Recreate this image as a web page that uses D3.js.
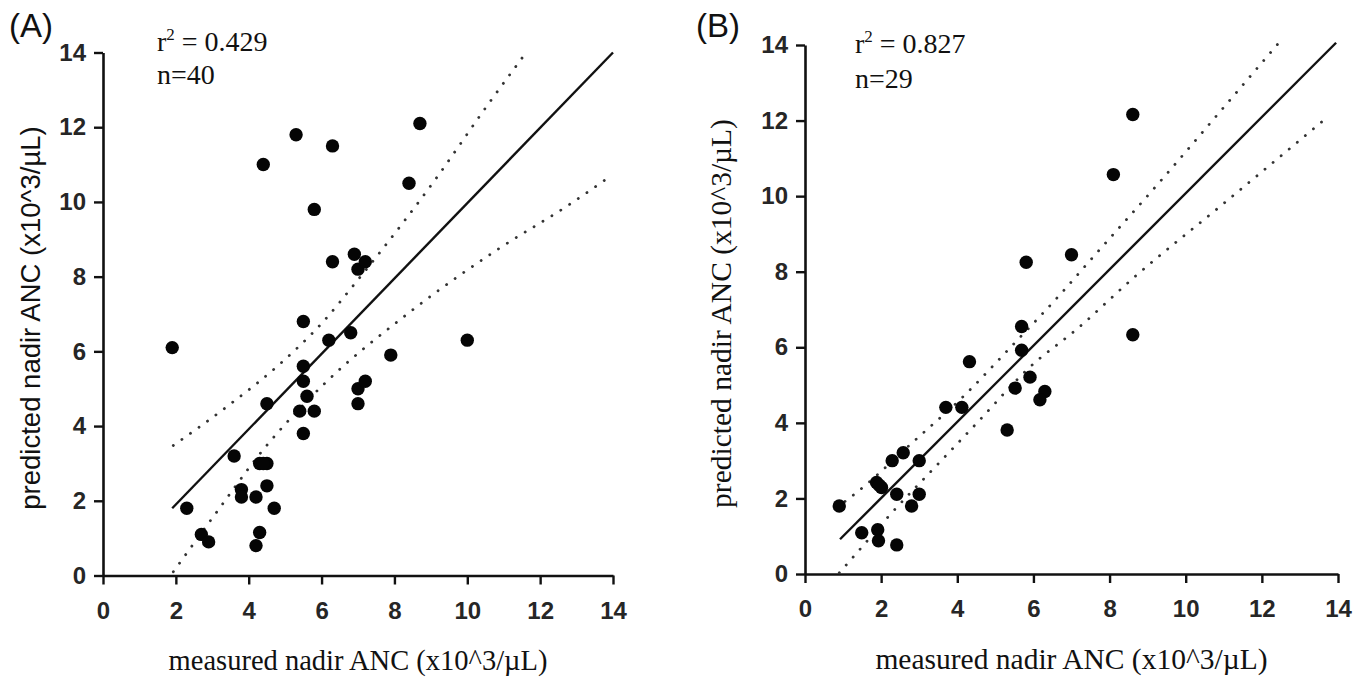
<!DOCTYPE html>
<html>
<head>
<meta charset="utf-8">
<script src="https://cdn.jsdelivr.net/npm/d3@7"></script>
<style>
  html, body { margin: 0; padding: 0; background: #fff; }
  svg { display: block; }
  .tick text { font-family: 'Liberation Sans', Arial, Helvetica, sans-serif; font-size: 24px; font-weight: bold; }
</style>
</head>
<body>
<svg id="chart" width="1371" height="681"></svg>
<script>
// ---------- data ----------
const tickValues = [0, 2, 4, 6, 8, 10, 12, 14];

// Panel A
const measuredA  = [1.9, 2.3, 2.7, 2.9, 3.6, 3.8, 3.8, 4.2, 4.3, 4.2, 4.3, 4.5, 4.5, 4.7, 4.5, 4.4, 5.3, 5.5, 5.5, 5.5, 5.6, 5.4, 5.8, 5.5, 5.8, 6.3, 6.3, 6.2, 6.8, 6.9, 7.0, 7.2, 7.0, 7.0, 7.2, 7.9, 8.4, 8.7, 10.0, 4.4];
const predictedA = [6.1, 1.8, 1.1, 0.9, 3.2, 2.3, 2.1, 2.1, 1.15, 0.8, 3.0, 3.0, 2.4, 1.8, 4.6, 11.0, 11.8, 6.8, 5.6, 5.2, 4.8, 4.4, 4.4, 3.8, 9.8, 11.5, 8.4, 6.3, 6.5, 8.6, 8.2, 8.4, 5.0, 4.6, 5.2, 5.9, 10.5, 12.1, 6.3, 3.0];
const fitA_x   = [1.9, 14.0];
const fitA_y   = [1.8, 14.0];
const upperA_x = [1.93, 3.51, 4.83, 6.05, 6.96, 7.52, 9.07, 10.54, 11.54];
const upperA_y = [3.48, 4.60, 5.64, 6.80, 7.87, 8.55, 10.53, 12.57, 13.90];
const lowerA_x = [1.93, 3.07, 4.40, 6.00, 8.38, 10.90, 12.74, 13.80];
const lowerA_y = [0.10, 1.63, 3.37, 5.06, 7.02, 8.77, 9.89, 10.60];

// Panel B
const measuredB  = [0.9, 1.49, 1.91, 1.93, 1.88, 2.01, 2.29, 2.58, 2.41, 2.41, 2.80, 3.0, 3.0, 3.7, 4.12, 4.32, 5.31, 5.52, 5.69, 5.69, 5.91, 6.30, 6.17, 8.61, 5.81, 7.0, 8.1, 8.61, 1.95];
const predictedB = [1.8, 1.09, 1.17, 0.88, 2.42, 2.29, 3.0, 3.21, 2.11, 0.77, 1.8, 3.0, 2.11, 4.41, 4.41, 5.62, 3.81, 4.92, 6.55, 5.92, 5.21, 4.83, 4.61, 6.33, 8.25, 8.45, 10.57, 12.16, 2.35];
const fitB_x   = [0.92, 13.95];
const fitB_y   = [0.92, 14.06];
const upperB_x = [1.05, 1.31, 2.80, 4.25, 5.38, 6.74, 7.49, 9.33, 10.99, 12.43];
const upperB_y = [1.92, 2.12, 3.46, 4.79, 5.98, 7.44, 8.30, 10.39, 12.34, 14.04];
const lowerB_x = [0.90, 1.44, 2.19, 3.55, 4.51, 5.91, 7.14, 8.62, 10.99, 13.77];
const lowerB_y = [0.03, 0.65, 1.52, 2.97, 3.99, 5.48, 6.48, 7.83, 9.80, 12.13];

const panels = [
  { tag: "(A)", tagX: 9,   r2: "0.429", n: "n=40", textX: 157, r2Y: 51, nY: 84,
    x0: 103, x1: 613, y0: 575.5, y1: 52.5,
    mx: measuredA, my: predictedA, fx: fitA_x, fy: fitA_y,
    ux: upperA_x, uy: upperA_y, lx: lowerA_x, ly: lowerA_y,
    yFont: "'Liberation Sans', Arial, sans-serif", yFontSize: 27.5, yLabX: 40,
    xFontSize: 28.5, xLabY: 670 },
  { tag: "(B)", tagX: 696, r2: "0.827", n: "n=29", textX: 855, r2Y: 53, nY: 88,
    x0: 805, x1: 1338, y0: 574, y1: 45,
    mx: measuredB, my: predictedB, fx: fitB_x, fy: fitB_y,
    ux: upperB_x, uy: upperB_y, lx: lowerB_x, ly: lowerB_y,
    yFont: "'Liberation Serif', 'Times New Roman', serif", yFontSize: 29.5, yLabX: 731,
    xFontSize: 29.5, xLabY: 669 }
];

const svg = d3.select("#chart");
const serif = "'Liberation Serif', 'Times New Roman', serif";
const sans = "'Liberation Sans', Arial, Helvetica, sans-serif";

panels.forEach(p => {
  const x = d3.scaleLinear().domain([0, 14]).range([p.x0, p.x1]);
  const y = d3.scaleLinear().domain([0, 14]).range([p.y0, p.y1]);
  const g = svg.append("g");

  // axes
  const xAxis = d3.axisBottom(x).tickValues(tickValues).tickSize(9).tickSizeOuter(0).tickPadding(17);
  const yAxis = d3.axisLeft(y).tickValues(tickValues).tickSize(9).tickSizeOuter(0).tickPadding(8);
  const gx = g.append("g").attr("transform", `translate(0,${p.y0})`).call(xAxis);
  const gy = g.append("g").attr("transform", `translate(${p.x0},0)`).call(yAxis);
  [gx, gy].forEach(a => {
    a.attr("font-size", 24).attr("font-family", sans).attr("font-weight", "bold");
    a.select(".domain").attr("stroke", "#111").attr("stroke-width", 2.6);
    a.selectAll(".tick line").attr("stroke", "#111").attr("stroke-width", 2.4);
    a.selectAll(".tick text").attr("fill", "#262626");
  });

  // lines
  const line = d3.line().x(d => x(d[0])).y(d => y(d[1])).curve(d3.curveMonotoneX);
  g.append("path").datum(d3.zip(p.fx, p.fy)).attr("d", line)
    .attr("fill", "none").attr("stroke", "#111").attr("stroke-width", 2.4);
  [[p.ux, p.uy], [p.lx, p.ly]].forEach(([bx, by]) => {
    g.append("path").datum(d3.zip(bx, by)).attr("d", line)
      .attr("fill", "none").attr("stroke", "#333").attr("stroke-width", 2.8)
      .attr("stroke-linecap", "round").attr("stroke-dasharray", "0.1 10.4");
  });

  // points
  g.append("g").selectAll("circle").data(d3.zip(p.mx, p.my)).join("circle")
    .attr("cx", d => x(d[0])).attr("cy", d => y(d[1])).attr("r", 6.7).attr("fill", "#050505");

  // panel tag
  g.append("text").attr("x", p.tagX).attr("y", 37).text(p.tag)
    .style("font-family", sans).style("font-size", "33px").attr("fill", "#111");

  // r^2 and n
  const t = g.append("text").attr("x", p.textX).attr("y", p.r2Y)
    .style("font-family", serif).style("font-size", "28px").attr("fill", "#111");
  t.append("tspan").text("r");
  t.append("tspan").text("2").attr("dy", -11).style("font-size", "17px");
  t.append("tspan").text(" = " + p.r2).attr("dy", 11);
  g.append("text").attr("x", p.textX).attr("y", p.nY).text(p.n)
    .style("font-family", serif).style("font-size", "28px").attr("fill", "#111");

  // axis titles
  g.append("text").attr("transform", `translate(${p.yLabX},${(p.y0 + p.y1) / 2 + 4}) rotate(-90)`)
    .attr("text-anchor", "middle").text("predicted nadir ANC (x10^3/µL)")
    .style("font-family", p.yFont).style("font-size", p.yFontSize + "px").attr("fill", "#111");
  g.append("text").attr("x", (p.x0 + p.x1) / 2).attr("y", p.xLabY)
    .attr("text-anchor", "middle").text("measured nadir ANC (x10^3/µL)")
    .style("font-family", serif).style("font-size", p.xFontSize + "px").attr("fill", "#111");
});
</script>
</body>
</html>
